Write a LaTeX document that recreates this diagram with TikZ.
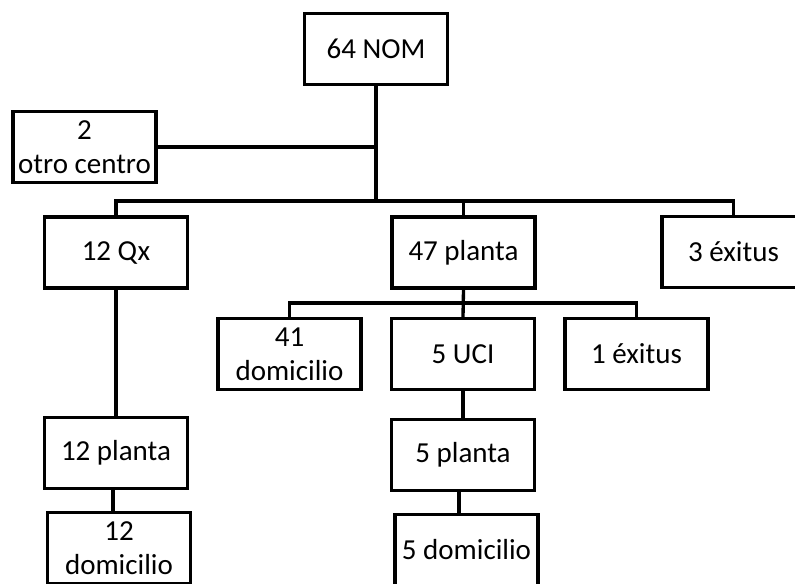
\documentclass[tikz,border=0pt]{standalone}
\usepackage{fontspec}
\setmainfont{Carlito}
\begin{document}
\begin{tikzpicture}[x=0.75pt,y=-0.75pt,
  line width=2.5pt,
  box/.style={draw=black, fill=white, minimum width=107.25pt, minimum height=53.25pt,
    inner sep=0pt, align=center, font=\fontsize{21.75}{25.5}\selectfont},
  link/.style={draw=black}]
\useasboundingbox (0,0) rectangle (795,583);
\clip (0,0) rectangle (795,583);

% boxes
\node[box] (nom)      at (376,49)    {64 NOM};
\node[box] (otro)     at (84.5,147)  {2\\otro centro};
\node[box] (qx)       at (116,252.5) {12 Qx};
\node[box] (planta47) at (463.5,252.5) {47 planta};
\node[box] (exitus3)  at (733.5,252) {3 éxitus};
\node[box] (dom41)    at (289.5,354) {41\\domicilio};
\node[box] (uci)      at (463,354)   {5 UCI};
\node[box] (exitus1)  at (636.5,354) {1 éxitus};
\node[box] (planta5)  at (463,455)   {5 planta};
\node[box] (dom5)     at (466.5,550) {5 domicilio};
\node[box] (planta12) at (116,453)   {12 planta};
\node[box] (dom12)    at (119,548)   {12\\domicilio};

% junctions
\coordinate (j1) at (376,201);
\coordinate (j2) at (463,303);
\coordinate (k5) at (459,0);
\coordinate (k12) at (113,0);

% first level
\draw[link] (nom.south) -- (j1);
\draw[link] (otro.east) -- (otro.east -| j1);
\draw[link] (qx.north) |- (j1) -| (exitus3.north);
\draw[link] (planta47.north) -- (planta47.north |- j1);

% second level
\draw[link] (planta47.south) -- (uci.north);
\draw[link] (dom41.north) |- (j2) -| (exitus1.north);
\draw[link] (uci.south) -- (planta5.north);
\draw[link] (planta5.south -| k5) -- (dom5.north -| k5);

% left branch
\draw[link] (qx.south) -- (planta12.north);
\draw[link] (planta12.south -| k12) -- (dom12.north -| k12);
\end{tikzpicture}
\end{document}
